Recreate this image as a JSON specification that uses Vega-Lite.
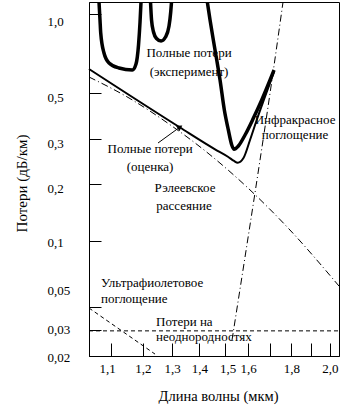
{
  "$schema": "https://vega.github.io/schema/vega-lite/v6.json",
  "width": 250,
  "height": 354,
  "autosize": "none",
  "padding": {"left": 89, "top": 2, "right": 20, "bottom": 56},
  "background": "white",
  "config": {
    "view": {"stroke": "black", "strokeWidth": 1},
    "font": "Liberation Serif",
    "axis": {"grid": false, "domainColor": "black", "tickColor": "black", "labelColor": "black", "titleColor": "black", "labelFont": "Liberation Serif", "titleFont": "Liberation Serif", "labelFontSize": 13, "titleFontSize": 14.5, "titleFontWeight": "normal", "labelOverlap": false, "labelFlush": false, "labelBound": false}
  },
  "datasets": {
    "curves": [
      {"s": "expA", "x": 1.0645, "y": 1.11},
      {"s": "expA", "x": 1.0674, "y": 0.9487},
      {"s": "expA", "x": 1.0695, "y": 0.8464},
      {"s": "expA", "x": 1.0791, "y": 0.7102},
      {"s": "expA", "x": 1.094, "y": 0.6506},
      {"s": "expA", "x": 1.1243, "y": 0.6226},
      {"s": "expA", "x": 1.1659, "y": 0.6118},
      {"s": "expA", "x": 1.1777, "y": 0.6449},
      {"s": "expA", "x": 1.1858, "y": 0.7619},
      {"s": "expA", "x": 1.1907, "y": 0.9322},
      {"s": "expA", "x": 1.1939, "y": 1.11},
      {"s": "expB", "x": 1.2253, "y": 1.11},
      {"s": "expB", "x": 1.2287, "y": 0.9487},
      {"s": "expB", "x": 1.2354, "y": 0.8539},
      {"s": "expB", "x": 1.2455, "y": 0.8066},
      {"s": "expB", "x": 1.261, "y": 0.7891},
      {"s": "expB", "x": 1.2766, "y": 0.8173},
      {"s": "expB", "x": 1.2888, "y": 0.9001},
      {"s": "expB", "x": 1.2948, "y": 1.0175},
      {"s": "expB", "x": 1.2976, "y": 1.11},
      {"s": "expC", "x": 1.4309, "y": 1.11},
      {"s": "expC", "x": 1.4416, "y": 0.9487},
      {"s": "expC", "x": 1.4546, "y": 0.796},
      {"s": "expC", "x": 1.4682, "y": 0.668},
      {"s": "expC", "x": 1.4815, "y": 0.5604},
      {"s": "expC", "x": 1.499, "y": 0.414},
      {"s": "expC", "x": 1.5154, "y": 0.3316},
      {"s": "expC", "x": 1.5296, "y": 0.2842},
      {"s": "expC", "x": 1.5392, "y": 0.2734},
      {"s": "expC", "x": 1.5574, "y": 0.2817},
      {"s": "expC", "x": 1.5861, "y": 0.3136},
      {"s": "expC", "x": 1.6225, "y": 0.3775},
      {"s": "expC", "x": 1.6602, "y": 0.4626},
      {"s": "expC", "x": 1.6984, "y": 0.5604},
      {"s": "expC", "x": 1.717, "y": 0.6118},
      {"s": "est", "x": 1.0358, "y": 0.6172},
      {"s": "est", "x": 1.3281, "y": 0.3409},
      {"s": "est", "x": 1.4614, "y": 0.2734},
      {"s": "est", "x": 1.5154, "y": 0.2551},
      {"s": "est", "x": 1.5392, "y": 0.2461},
      {"s": "est", "x": 1.5548, "y": 0.2423},
      {"s": "est", "x": 1.5788, "y": 0.2521},
      {"s": "est", "x": 1.6079, "y": 0.2973},
      {"s": "est", "x": 1.6376, "y": 0.3705},
      {"s": "est", "x": 1.6751, "y": 0.4799},
      {"s": "est", "x": 1.717, "y": 0.6028},
      {"s": "ray", "x": 1.0358, "y": 0.5754},
      {"s": "ray", "x": 1.1554, "y": 0.473},
      {"s": "ray", "x": 1.2888, "y": 0.3543},
      {"s": "ray", "x": 1.4376, "y": 0.2621},
      {"s": "ray", "x": 1.6036, "y": 0.1882},
      {"s": "ray", "x": 1.7887, "y": 0.1157},
      {"s": "ray", "x": 2.0502, "y": 0.0623},
      {"s": "ir", "x": 1.5308, "y": 0.02567},
      {"s": "ir", "x": 1.5861, "y": 0.0845},
      {"s": "ir", "x": 1.6435, "y": 0.2208},
      {"s": "ir", "x": 1.6984, "y": 0.5},
      {"s": "ir", "x": 1.7596, "y": 1.11},
      {"s": "uv", "x": 1.0358, "y": 0.0489},
      {"s": "uv", "x": 1.2405, "y": 0.0206},
      {"s": "inh", "x": 1.0358, "y": 0.0296},
      {"s": "inh", "x": 2.0502, "y": 0.0296},
      {"s": "arrow", "x": 1.2507, "y": 0.2894},
      {"s": "arrow", "x": 1.3281, "y": 0.3427}
    ],
    "head": [{"x": 1.3281, "y": 0.3427}],
    "centerText": [
      {"t": "Полные потери", "x": 1.3612, "y": 0.7102},
      {"t": "(эксперимент)", "x": 1.3612, "y": 0.6012},
      {"t": "Полные потери", "x": 1.2237, "y": 0.2742},
      {"t": "(оценка)", "x": 1.2237, "y": 0.2331},
      {"t": "Рэлеевское", "x": 1.3464, "y": 0.1905},
      {"t": "рассеяние", "x": 1.3427, "y": 0.153},
      {"t": "Инфракрасное", "x": 1.8182, "y": 0.3705},
      {"t": "поглощение", "x": 1.8182, "y": 0.3136}
    ],
    "leftText": [
      {"t": "Ультрафиолетовое", "x": 1.0703, "y": 0.0643},
      {"t": "поглощение", "x": 1.0703, "y": 0.05439},
      {"t": "Потери на", "x": 1.2439, "y": 0.03583},
      {"t": "неоднородностях", "x": 1.2439, "y": 0.0269}
    ]
  },
  "encoding": {
    "x": {
      "field": "x", "type": "quantitative",
      "scale": {"type": "log", "domain": [1.0358, 2.0502], "nice": false},
      "axis": {
        "values": [1.1, 1.2, 1.3, 1.4, 1.5, 1.6, 1.7, 1.8, 1.9, 2.0],
        "labelExpr": "(datum.value == 1.7 || datum.value == 1.9) ? '' : (datum.value == 2 ? '2,0' : replace(toString(datum.value), '.', ','))",
        "tickSize": -13,
        "labelPadding": 25,
        "labelBaseline": "middle",
        "labelOffset": {"condition": [{"test": "datum.value == 1.1", "value": -4}, {"test": "datum.value == 1.5", "value": 3}], "value": 0},
        "title": "Длина волны (мкм)",
        "titleX": 129,
        "titleY": 40,
        "titleBaseline": "middle"
      }
    },
    "y": {
      "field": "y", "type": "quantitative",
      "scale": {"type": "log", "domain": [0.02, 0.03, 0.05, 0.1, 0.2, 0.3, 0.5, 1.0, 1.11], "range": [354, 328, 305, 239, 182, 137, 91, 12, 0], "nice": false},
      "axis": {
        "values": [0.02, 0.03, 0.05, 0.1, 0.2, 0.3, 0.5, 1],
        "labelExpr": "datum.value == 1 ? '1,0' : replace(toString(datum.value), '.', ',')",
        "tickSize": -12,
        "labelAlign": "left",
        "labelPadding": 54,
        "labelBaseline": "middle",
        "labelOffset": {"condition": [{"test": "datum.value == 1", "value": 7}, {"test": "datum.value == 0.05", "value": -17}, {"test": "datum.value == 0.1", "value": 1}, {"test": "datum.value == 0.03", "value": -1}, {"test": "datum.value == 0.02", "value": 1}], "value": 4},
        "title": "Потери (дБ/км)",
        "titleFontSize": 15,
        "titleX": -68,
        "titleY": 181,
        "titleBaseline": "middle",
        "titleAlign": "center",
        "titleAngle": 270
      }
    }
  },
  "layer": [
    {
      "data": {"name": "curves"},
      "transform": [{"filter": "indexof(['expA','expB','expC'], datum.s) >= 0"}],
      "mark": {"type": "line", "color": "black", "strokeWidth": 3.5, "interpolate": "monotone", "clip": true},
      "encoding": {"detail": {"field": "s"}}
    },
    {
      "data": {"name": "curves"},
      "transform": [{"filter": "datum.s == 'est'"}],
      "mark": {"type": "line", "color": "black", "strokeWidth": 2, "interpolate": "monotone"}
    },
    {
      "data": {"name": "curves"},
      "transform": [{"filter": "datum.s == 'ray' || datum.s == 'ir'"}],
      "mark": {"type": "line", "color": "black", "strokeWidth": 1, "strokeDash": [7, 3, 1, 3], "interpolate": "monotone", "clip": true},
      "encoding": {"detail": {"field": "s"}}
    },
    {
      "data": {"name": "curves"},
      "transform": [{"filter": "datum.s == 'uv' || datum.s == 'inh'"}],
      "mark": {"type": "line", "color": "black", "strokeWidth": 1, "strokeDash": [4, 3]},
      "encoding": {"detail": {"field": "s"}}
    },
    {
      "data": {"name": "curves"},
      "transform": [{"filter": "datum.s == 'arrow'"}],
      "mark": {"type": "line", "color": "black", "strokeWidth": 1}
    },
    {
      "data": {"name": "head"},
      "mark": {"type": "point", "shape": "triangle-up", "angle": 57, "filled": true, "color": "black", "size": 40, "opacity": 1}
    },
    {
      "data": {"name": "centerText"},
      "mark": {"type": "text", "font": "Liberation Serif", "fontSize": 13, "align": "center", "baseline": "middle", "color": "black"},
      "encoding": {"text": {"field": "t"}}
    },
    {
      "data": {"name": "leftText"},
      "mark": {"type": "text", "font": "Liberation Serif", "fontSize": 13, "align": "left", "baseline": "middle", "color": "black"},
      "encoding": {"text": {"field": "t"}}
    }
  ]
}
